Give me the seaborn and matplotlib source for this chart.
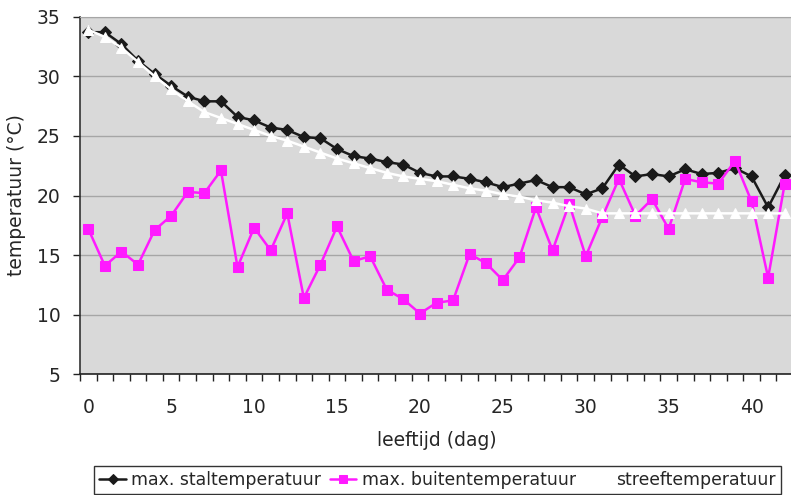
import numpy as np
import pandas as pd
import matplotlib
matplotlib.use("Agg")
import matplotlib.pyplot as plt
from matplotlib.ticker import MultipleLocator, FixedLocator
import seaborn as sns

days = list(range(43))
stal = [33.7, 33.7, 32.7, 31.3, 30.2, 29.2, 28.3, 27.9, 27.9, 26.6, 26.3, 25.7, 25.5, 24.9, 24.8,
        23.9, 23.3, 23.1, 22.8, 22.6, 21.9, 21.6, 21.6, 21.4, 21.1, 20.7, 21.0, 21.3, 20.7, 20.7,
        20.1, 20.6, 22.6, 21.6, 21.8, 21.6, 22.2, 21.8, 21.9, 22.3, 21.6, 19.0, 21.7]
buiten = [17.2, 14.1, 15.3, 14.2, 17.1, 18.3, 20.3, 20.2, 22.1, 14.0, 17.3, 15.4, 18.5, 11.4, 14.2,
          17.4, 14.5, 14.9, 12.1, 11.3, 10.1, 11.0, 11.2, 15.1, 14.3, 12.9, 14.8, 19.0, 15.4, 19.3,
          14.9, 18.2, 21.4, 18.3, 19.7, 17.2, 21.4, 21.1, 21.0, 22.9, 19.5, 13.1, 21.0]
streef = [33.9, 33.3, 32.4, 31.2, 30.0, 28.9, 27.9, 27.0, 26.5, 26.0, 25.5, 25.0, 24.6, 24.1, 23.6,
          23.1, 22.7, 22.3, 21.9, 21.6, 21.4, 21.2, 20.9, 20.6, 20.4, 20.1, 19.9, 19.6, 19.4, 19.1,
          18.9, 18.5, 18.5, 18.5, 18.5, 18.5, 18.5, 18.5, 18.5, 18.5, 18.5, 18.5, 18.5]
labels = ["max. staltemperatuur", "max. buitentemperatuur", "streeftemperatuur"]

sns.set_style("white")
plt.rcParams['font.family'] = ['DejaVu Sans']

FS = 13.5
LFS = 12.4

fig = plt.figure(figsize=(7.91, 4.95), dpi=100)
ax = fig.add_axes([80/791, (495-374.3)/495, 713/791, (374.3-16.7)/495])
ax.set_facecolor('#d9d9d9')

df = pd.DataFrame({"dag": days, labels[0]: stal, labels[1]: buiten, labels[2]: streef})

sns.lineplot(data=df, x="dag", y=labels[0], ax=ax, color='#1a1a1a', lw=1.8,
             marker='D', markersize=6.5, markeredgecolor='#1a1a1a', label=labels[0], zorder=3)
sns.lineplot(data=df, x="dag", y=labels[1], ax=ax, color='#ff1aff', lw=1.8,
             marker='s', markersize=7.3, markeredgecolor='#ff1aff', label=labels[1], zorder=4)
sns.lineplot(data=df, x="dag", y=labels[2], ax=ax, color='white', lw=1.8,
             marker='^', markersize=7.8, markeredgecolor='white', label=labels[2], zorder=5)

ax.set_xlim(-0.5, 42.5)
ax.set_ylim(5, 35)
ax.yaxis.set_major_locator(MultipleLocator(5))
ax.xaxis.set_major_locator(MultipleLocator(5))
ax.xaxis.set_minor_locator(FixedLocator(np.arange(-0.5, 43, 1)))
ax.tick_params(axis='x', which='major', length=0, labelsize=FS, pad=17)
ax.tick_params(axis='x', which='minor', length=5, width=1, color='#222222', direction='out', bottom=True)
ax.tick_params(axis='y', which='major', length=5, width=1, color='#222222', direction='out',
               left=True, labelsize=FS, pad=9)
ax.grid(axis='y', color='#a6a6a6', lw=1)
ax.grid(axis='x', visible=False)
ax.set_axisbelow(True)

ax.spines['right'].set_visible(False)
ax.spines['top'].set_color('#a6a6a6')
ax.spines['left'].set_color('#333333')
ax.spines['bottom'].set_color('#222222')
ax.spines['left'].set_linewidth(1.2)
ax.spines['bottom'].set_linewidth(1.2)

ax.set_xlabel("leeftijd (dag)", fontsize=FS, labelpad=10)
ax.set_ylabel("temperatuur (°C)", fontsize=FS, labelpad=8)

handles, labs = ax.get_legend_handles_labels()
ax.get_legend().remove()
leg = fig.legend(handles, labs, loc='lower left', bbox_to_anchor=(94/791, 1/495),
                 ncol=3, fontsize=LFS, frameon=True, fancybox=False, markerscale=0.8,
                 edgecolor='black', handlelength=1.55, handletextpad=0.3, columnspacing=0.5,
                 borderpad=0.3, borderaxespad=0)
leg.get_frame().set_linewidth(1)

fig.savefig("out.png", dpi=100)
